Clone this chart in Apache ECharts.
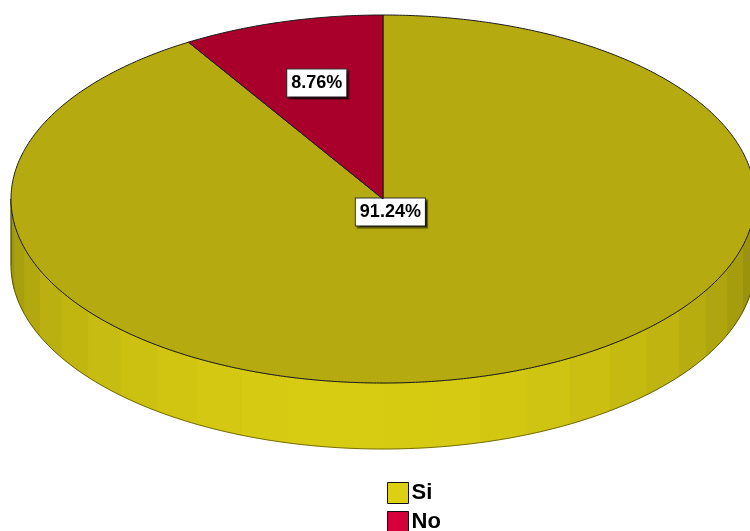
<!DOCTYPE html>
<html>
<head>
<meta charset="utf-8">
<script src="https://cdn.jsdelivr.net/npm/echarts@6/dist/echarts.min.js"></script>
<style>
  html, body { margin: 0; padding: 0; background: #fff; }
  #chart { width: 750px; height: 531px; }
</style>
</head>
<body>
<div id="chart"></div>
<script>
// data
const categories = ["Si", "No"];
const values = [91.24, 8.76];

// look
const topColors = ["#b5ab10", "#a8002b"];
const legendColors = ["#ddd012", "#d6003b"];
const sideLight = [0xd8, 0xcc, 0x12];
const sideDark = [0x8e, 0x87, 0x0c];
const labelDist = [0.073, 0.655];

// ellipse geometry
const CX = 383, CY = 199, RX = 372, RY = 184, DEPTH = 66;

const total = values.reduce((a, b) => a + b, 0);

function pt(deg, dy) {
  const r = deg * Math.PI / 180;
  return [CX + RX * Math.sin(r), CY - RY * Math.cos(r) + (dy || 0)];
}

function shadeAt(deg) {
  // brightest near the front, darker towards the sides
  const k = Math.cos((deg - 185) * Math.PI / 180);
  const f = Math.max(0, k);
  const c = sideDark.map((d, i) => Math.round(d + (sideLight[i] - d) * Math.pow(f, 0.8)));
  return "rgb(" + c.join(",") + ")";
}

function renderItem(idx) {
  return function (params, api) {
    const v = api.value(0);
    let before = 0;
    for (let i = 0; i < idx; i++) before += values[i];
    const a0 = before / total * 360;
    const a1 = (before + v) / total * 360;
    const children = [];

    // side band (front half only)
    const s0 = Math.max(a0, 90), s1 = Math.min(a1, 270);
    if (s1 > s0) {
      const n = Math.max(1, Math.round((s1 - s0) / 7.5));
      const step = (s1 - s0) / n;
      for (let k = 0; k < n; k++) {
        const t0 = s0 + k * step, t1 = t0 + step;
        const pts = [];
        for (let t = t0; t <= t1 + 0.001; t += step / 6) pts.push(pt(t));
        for (let t = t1; t >= t0 - 0.001; t -= step / 6) pts.push(pt(t, DEPTH));
        const col = shadeAt((t0 + t1) / 2);
        children.push({
          type: "polygon",
          shape: { points: pts },
          style: { fill: col, stroke: col, lineWidth: 1 },
          z2: 1
        });
      }
      // outline of the side
      const out = [];
      for (let t = s0; t <= s1 + 0.001; t += 1) out.push(pt(t, DEPTH));
      children.push({
        type: "polyline",
        shape: { points: out },
        style: { fill: null, stroke: "rgba(0,0,0,0.45)", lineWidth: 1 },
        z2: 2
      });
      const rim = [];
      for (let t = s0; t <= s1 + 0.001; t += 1) rim.push(pt(t));
      children.push({
        type: "polyline",
        shape: { points: rim },
        style: { fill: null, stroke: "rgba(40,40,0,0.55)", lineWidth: 0.8, lineDash: [2, 1] },
        z2: 3
      });
      [s0, s1].forEach(function (t) {
        if (t === 90 || t === 270) {
          children.push({
            type: "line",
            shape: { x1: pt(t)[0], y1: pt(t)[1], x2: pt(t, DEPTH)[0], y2: pt(t, DEPTH)[1] },
            style: { stroke: "rgba(0,0,0,0.6)", lineWidth: 1 },
            z2: 2
          });
        }
      });
    }

    // top face
    const topPts = [[CX, CY]];
    for (let t = a0; t < a1; t += 0.5) topPts.push(pt(t));
    topPts.push(pt(a1));
    children.push({
      type: "polygon",
      shape: { points: topPts },
      style: { fill: topColors[idx], stroke: "#1a1a1a", lineWidth: 1 },
      z2: 4
    });

    // label
    const mid = (a0 + a1) / 2 * Math.PI / 180;
    const lx = CX + RX * labelDist[idx] * Math.sin(mid);
    const ly = CY - RY * labelDist[idx] * Math.cos(mid);
    children.push({
      type: "text",
      x: lx,
      y: ly,
      z2: 10,
      style: {
        text: v.toFixed(2) + "%",
        font: "bold 18px 'Liberation Sans', Arial, sans-serif",
        fill: "#000",
        align: "center",
        verticalAlign: "middle",
        backgroundColor: "#fff",
        borderColor: "#333",
        borderWidth: 1,
        padding: [5, 4, 4, 4],
        shadowColor: "rgba(0,0,0,0.55)",
        shadowOffsetX: 2,
        shadowOffsetY: 2,
        shadowBlur: 1
      }
    });

    return { type: "group", children: children };
  };
}

const chart = echarts.init(document.getElementById("chart"), null, { renderer: "canvas" });

chart.setOption({
  animation: false,
  legend: {
    orient: "vertical",
    left: 387,
    top: 482,
    height: 80,
    padding: 0,
    itemWidth: 21,
    itemHeight: 21,
    itemGap: 7,
    icon: "rect",
    data: categories.map((c, i) => ({
      name: c,
      itemStyle: { color: legendColors[i], borderColor: "#111", borderWidth: 1 }
    })),
    textStyle: {
      fontFamily: "'Liberation Sans', Arial, sans-serif",
      fontWeight: "bold",
      fontSize: 22,
      color: "#000",
      padding: [0, 0, 0, -2]
    },
    selectedMode: false
  },
  series: categories.map((c, i) => ({
    type: "custom",
    name: c,
    coordinateSystem: "none",
    itemStyle: { color: legendColors[i] },
    renderItem: renderItem(i),
    data: [[values[i]]],
    z: i === 0 ? 2 : 3
  }))
});
</script>
</body>
</html>
